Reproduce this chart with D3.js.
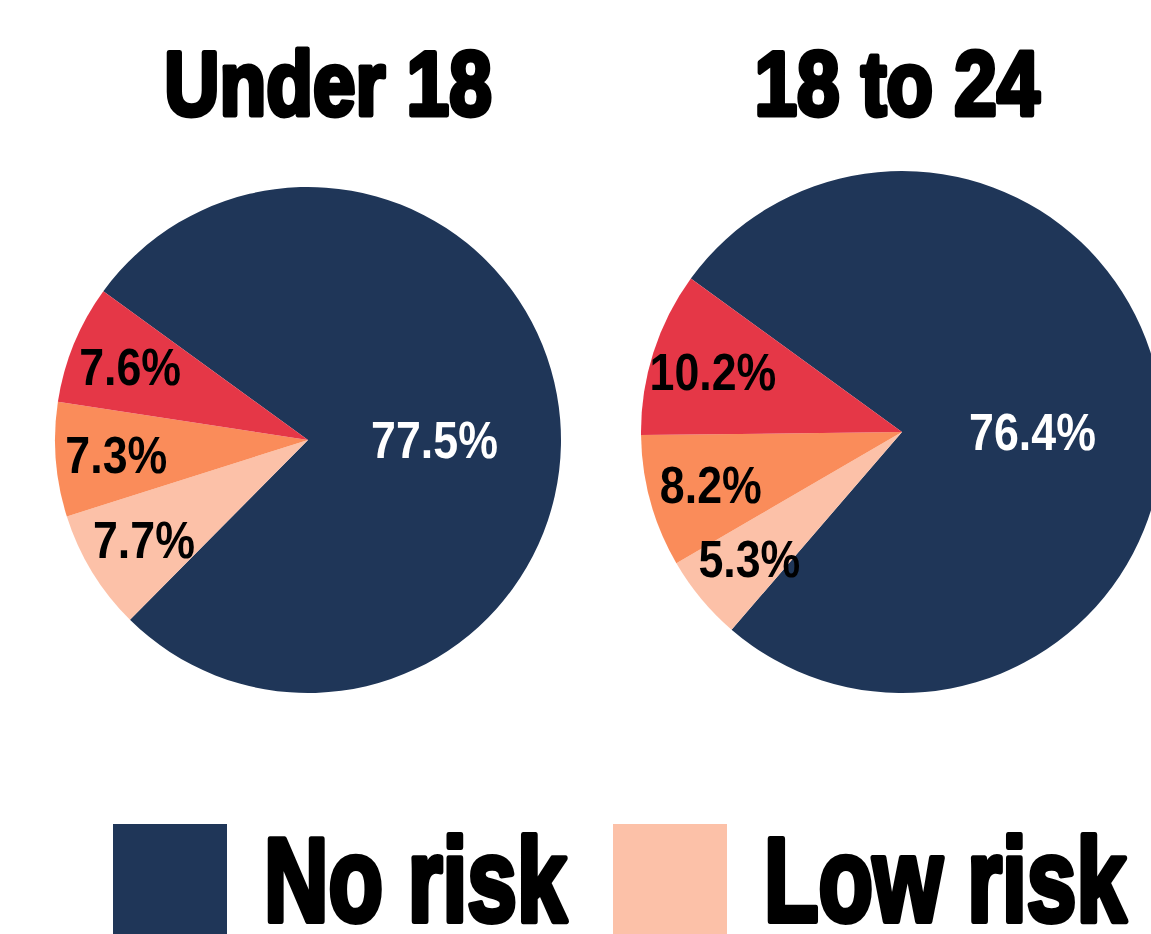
<!DOCTYPE html>
<html>
<head>
<meta charset="utf-8">
<script src="https://cdn.jsdelivr.net/npm/d3@7"></script>
<style>
  html, body { margin: 0; padding: 0; background: #ffffff; }
  svg { display: block; }
</style>
</head>
<body>
<svg id="chart" width="1151" height="934"></svg>
<script>
// Risk categories, in the order the slices are drawn (clockwise)
const categories = ["No risk", "Low risk", "Medium risk", "High risk"];
const colors = ["#1f3658", "#fcc1a8", "#fa8c5a", "#e53747"];

// One pie per age group, shares in percent
const groups = ["Under 18", "18 to 24"];
const under18 = [77.5, 7.7, 7.3, 7.6];
const age18to24 = [76.4, 5.3, 8.2, 10.2];
const seriesValues = [under18, age18to24];

// Legend entries shown beneath the pies
const legendItems = ["No risk", "Low risk"];

const svg = d3.select("#chart");
const FONT = "'Liberation Sans', Arial, sans-serif";

// Layout of the two pies
const pies = [
  { cx: 308, cy: 440, r: 253, titleX: 328 },
  { cx: 902, cy: 432, r: 261, titleX: 897 }
];

const start = 306 * Math.PI / 180;
const pie = d3.pie().sort(null).value(d => d)
  .startAngle(start).endAngle(start + 2 * Math.PI);

const colorScale = d3.scaleOrdinal().domain(categories).range(colors);
const fmt = d => d3.format(".1f")(d) + "%";

groups.forEach((g, gi) => {
  const P = pies[gi];
  const arcs = pie(seriesValues[gi]);

  const arc = d3.arc().innerRadius(0).outerRadius(P.r);
  const labelArc = d3.arc().innerRadius(P.r * 0.76).outerRadius(P.r * 0.76);

  const gPie = svg.append("g").attr("transform", `translate(${P.cx},${P.cy})`);

  gPie.selectAll("path")
    .data(arcs)
    .join("path")
    .attr("d", arc)
    .attr("fill", (d, i) => colorScale(categories[i]));

  // Small slices: label near the rim; the dominant slice: label half-way out, level with the centre
  gPie.selectAll("text")
    .data(arcs)
    .join("text")
    .attr("transform", d => {
      const c = d.value > 50 ? [P.r * 0.5, 0] : labelArc.centroid(d);
      return `translate(${c[0]},${c[1]}) scale(0.86,1)`;
    })
    .attr("text-anchor", "middle")
    .attr("dy", "0.35em")
    .attr("font-family", FONT)
    .attr("font-weight", "bold")
    .attr("font-size", 52)
    .attr("fill", d => d.value > 50 ? "#ffffff" : "#000000")
    .text(d => fmt(d.value));

  // Group title
  svg.append("text")
    .attr("transform", `translate(${P.titleX},115) scale(0.85,1)`)
    .attr("text-anchor", "middle")
    .attr("font-family", FONT)
    .attr("font-weight", "bold")
    .attr("font-size", 90)
    .attr("fill", "#000")
    .attr("stroke", "#000")
    .attr("stroke-width", 5)
    .attr("stroke-linejoin", "round")
    .text(g);
});

// Legend
const item = svg.append("g").selectAll("g")
  .data(legendItems)
  .join("g")
  .attr("transform", (d, i) => `translate(${113 + i * 500},824)`);

item.append("rect")
  .attr("width", 114)
  .attr("height", 114)
  .attr("fill", d => colorScale(d));

item.append("text")
  .attr("transform", "translate(151,97) scale(0.75,1)")
  .attr("font-family", FONT)
  .attr("font-weight", "bold")
  .attr("font-size", 119)
  .attr("fill", "#000")
  .attr("stroke", "#000")
  .attr("stroke-width", 6)
  .attr("stroke-linejoin", "round")
  .text(d => d);
</script>
</body>
</html>
